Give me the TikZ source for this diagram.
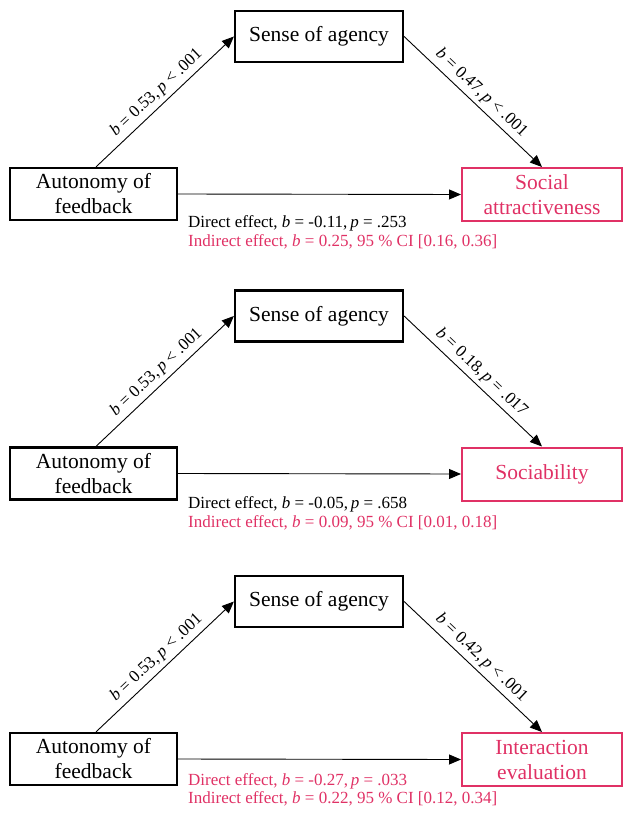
\documentclass[tikz,border=0pt]{standalone}
\usepackage{fontspec}
\setmainfont{Liberation Serif}
\usetikzlibrary{arrows.meta}
\definecolor{pk}{RGB}{224,49,101}
\tikzset{
 blk/.style={draw=black, line width=2.2pt, inner sep=0pt, align=center, font=\fontsize{21.5}{25}\selectfont},
 pkbox/.style={draw=pk, text=pk, line width=2pt, inner sep=0pt, align=center, font=\fontsize{21.5}{25}\selectfont},
 conn/.style={line width=0.9pt, -{Triangle[length=12pt,width=10pt]}},
 coef/.style={font=\fontsize{17}{19}\selectfont, sloped, above, midway, inner sep=4pt},
 eff/.style={font=\fontsize{17}{19}\selectfont, anchor=base west, inner sep=0pt},
 sbox/.style={blk, minimum width=168pt, minimum height=51pt},
 abox/.style={blk, minimum width=167pt, minimum height=52pt},
 obox/.style={pkbox, minimum width=160pt, minimum height=53pt},
}
\begin{document}
\begin{tikzpicture}[x=1pt,y=-1pt]
\useasboundingbox (0,0) rectangle (624,818);
% Panel 1
\node[sbox] (s1) at (319,36.5) {Sense of agency};
\node[abox] (a1) at (93.5,194) {Autonomy of\\feedback};
\node[obox] (o1) at (542,194.5) {Social\\attractiveness};
\draw[conn] ([xshift=2.5pt]a1.north) -- (s1.west) node[coef] {\textit{b} = 0.53,\,\textit{p} < .001};
\draw[conn] (s1.east) -- (o1.north) node[coef] {\textit{b} = 0.47,\,\textit{p} < .001};
\draw[conn] (a1.east) -- (o1.west);
\node[eff] (d1) at (188,228) {Direct effect, \textit{b} = -0.11,\,\textit{p} = .253};
\node[eff, text=pk] (i1) at (188,247) {Indirect effect, \textit{b} = 0.25, 95 \% CI [0.16, 0.36]};
% Panel 2
\node[sbox] (s2) at (319,316) {Sense of agency};
\node[abox] (a2) at (93.5,473.5) {Autonomy of\\feedback};
\node[obox] (o2) at (542,474) {Sociability};
\draw[conn] ([xshift=2.5pt]a2.north) -- (s2.west) node[coef] {\textit{b} = 0.53,\,\textit{p} < .001};
\draw[conn] (s2.east) -- (o2.north) node[coef] {\textit{b} = 0.18,\,\textit{p} = .017};
\draw[conn] (a2.east) -- (o2.west);
\node[eff] (d2) at (188,508) {Direct effect, \textit{b} = -0.05,\,\textit{p} = .658};
\node[eff, text=pk] (i2) at (188,527) {Indirect effect, \textit{b} = 0.09, 95 \% CI [0.01, 0.18]};
% Panel 3
\node[sbox] (s3) at (319,601.5) {Sense of agency};
\node[abox] (a3) at (93.5,759) {Autonomy of\\feedback};
\node[obox] (o3) at (542,759.5) {Interaction\\evaluation};
\draw[conn] ([xshift=2.5pt]a3.north) -- (s3.west) node[coef] {\textit{b} = 0.53,\,\textit{p} < .001};
\draw[conn] (s3.east) -- (o3.north) node[coef] {\textit{b} = 0.42,\,\textit{p} < .001};
\draw[conn] (a3.east) -- (o3.west);
\node[eff, text=pk] (d3) at (188,785) {Direct effect, \textit{b} = -0.27,\,\textit{p} = .033};
\node[eff, text=pk] (i3) at (188,803) {Indirect effect, \textit{b} = 0.22, 95 \% CI [0.12, 0.34]};
\end{tikzpicture}
\end{document}
